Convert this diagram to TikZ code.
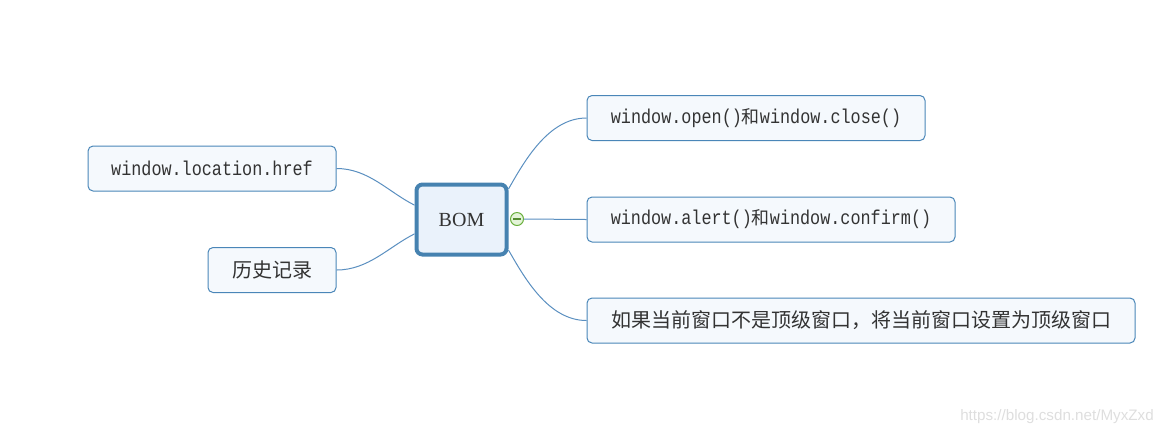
\documentclass[tikz,border=0pt]{standalone}
\usepackage{fontspec}
\setmainfont{Liberation Serif}
\setmonofont[FakeStretch=0.84]{Liberation Mono}
\setsansfont{Liberation Sans}
\newfontfamily\cjk{Noto Sans CJK SC}
\usetikzlibrary{positioning}
\definecolor{linkblue}{HTML}{5A8FC0}
\definecolor{boxline}{HTML}{4A86B8}
\definecolor{boxfill}{HTML}{F5F9FD}
\definecolor{rootline}{HTML}{4682B0}
\definecolor{rootfill}{HTML}{EAF2FB}
\definecolor{textgray}{HTML}{333333}
\definecolor{foldline}{HTML}{6AAF3D}
\definecolor{foldfill}{HTML}{E4F4D8}
\tikzset{x=0.5pt, y=-0.5pt,
  topic/.style={draw=boxline, fill=boxfill, rounded corners=2.5pt, line width=0.5pt,
    minimum height=22.5pt, inner sep=0pt, text=textgray, font=\ttfamily\fontsize{10}{12}\selectfont},
  root/.style={draw=rootline, fill=rootfill, rounded corners=3pt, line width=2pt,
    minimum width=45pt, minimum height=35pt, text=textgray, font=\fontsize{10}{12}\selectfont},
  branch/.style={draw=linkblue, line width=0.5pt}}

\begin{document}
\begin{tikzpicture}
   \useasboundingbox (0,0) rectangle (1166,436);
   % centre
   \node[root] (bom) at (461.5,219.5) {BOM};
   \node[circle, draw=foldline, fill=foldfill, line width=0.5pt, minimum size=6.5pt, inner sep=0pt] (fold) at (517,219) {};
   \draw[foldline!80!black, line width=0.6pt] ([xshift=-2pt]fold.center) -- ([xshift=2pt]fold.center);
   % right side
   \node[topic, minimum width=169pt] (open) at (756,118) {window.open(){\cjk\fontsize{9}{12}\selectfont 和}window.close()};
   \node[topic, minimum width=184pt] (alert) at (771,219.5) {window.alert(){\cjk\fontsize{9}{12}\selectfont 和}window.confirm()};
   \node[topic, minimum width=274pt] (top) at (861,320.5) {\cjk\fontsize{10}{12}\selectfont 如果当前窗口不是顶级窗口，将当前窗口设置为顶级窗口};
   % left side
   \node[topic, minimum width=124pt] (loc) at (212,168.5) {window.location.href};
   \node[topic, minimum width=64pt] (hist) at (272,270) {\cjk\fontsize{10}{12}\selectfont 历史记录};
   % branches
   \draw[branch] (bom.33) .. controls +(16,-28) and +(-38,0) .. (open.west);
   \draw[branch] (fold.east) -- (alert.west);
   \draw[branch] (bom.-33) .. controls +(16,28) and +(-38,0) .. (top.west);
   \draw[branch] (loc.east) .. controls +(32,0) and +(-26,-13) .. (bom.163);
   \draw[branch] (hist.east) .. controls +(32,0) and +(-26,13) .. (bom.197);
   % watermark
   \node[text=black!13, font=\sffamily\fontsize{7.6}{9}\selectfont] (mark) at (1057,417) {https://blog.csdn.net/MyxZxd};
\end{tikzpicture}
\end{document}
